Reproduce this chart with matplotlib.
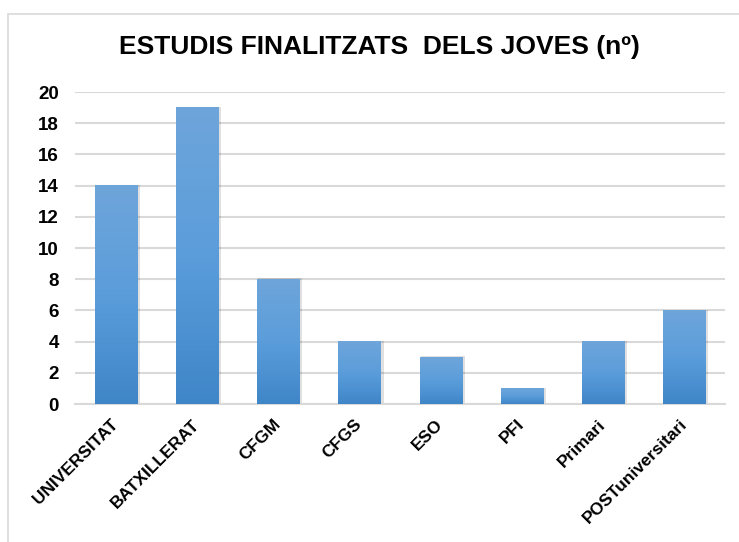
import matplotlib
matplotlib.use("Agg")
import matplotlib.pyplot as plt
import numpy as np
from matplotlib.colors import LinearSegmentedColormap
from matplotlib.patches import Rectangle

# data
categories = ["UNIVERSITAT", "BATXILLERAT", "CFGM", "CFGS", "ESO", "PFI",
              "Primari", "POSTuniversitari"]
values = [14, 19, 8, 4, 3, 1, 4, 6]
yticks = [0, 2, 4, 6, 8, 10, 12, 14, 16, 18, 20]
title = "ESTUDIS FINALITZATS  DELS JOVES (nº)"

plt.rcParams["font.family"] = ["Liberation Sans", "DejaVu Sans"]

fig = plt.figure(figsize=(7.39, 5.42), dpi=100)
ax = fig.add_axes([0.102, 0.2546, 0.879, 0.5756])

# outer chart border
fig.patches.append(Rectangle((8 / 739, -0.1), 1.2, 1 - 14 / 542 + 0.1,
                             transform=fig.transFigure, fill=False,
                             edgecolor="#d9d9d9", linewidth=1.2))

x = np.arange(len(categories))
bars = ax.bar(x, values, width=0.52, color="none", zorder=3)

# vertical gradient fill, lighter on top
cmap = LinearSegmentedColormap.from_list("blu", ["#3f86c8", "#5b9ddb", "#6ea5da"])
grad = np.linspace(0, 1, 256).reshape(-1, 1)
for b in bars:
    x0, w, h = b.get_x(), b.get_width(), b.get_height()
    # soft shadow
    ax.add_patch(Rectangle((x0 + 0.015, 0), w + 0.02, h + 0.05, color="#000000",
                           alpha=0.12, zorder=2, linewidth=0))
    ax.imshow(grad, extent=[x0, x0 + w, 0, h], origin="lower", cmap=cmap,
              aspect="auto", zorder=3)

ax.set_xlim(-0.5, len(categories) - 0.5)
ax.set_ylim(0, 20)
ax.set_yticks(yticks)
ax.set_yticklabels([str(t) for t in yticks], fontsize=13.5, fontweight="bold")
ax.set_xticks(x)
ax.set_xticklabels(categories, rotation=45, ha="right", va="center",
                   rotation_mode="anchor", fontsize=12.5, fontweight="bold")
ax.tick_params(axis="y", length=0, pad=12)
ax.tick_params(axis="x", length=0, pad=13)

ax.yaxis.grid(True, color="#d9d9d9", linewidth=1.5, zorder=0)
ax.set_axisbelow(True)
for s in ["top", "right", "left"]:
    ax.spines[s].set_visible(False)
ax.spines["bottom"].set_color("#d9d9d9")
ax.spines["bottom"].set_linewidth(1.5)

fig.text(0.513, 1 - 47 / 542, title, ha="center", va="center",
         fontsize=19, fontweight="bold")

fig.savefig("out.png", dpi=100)
